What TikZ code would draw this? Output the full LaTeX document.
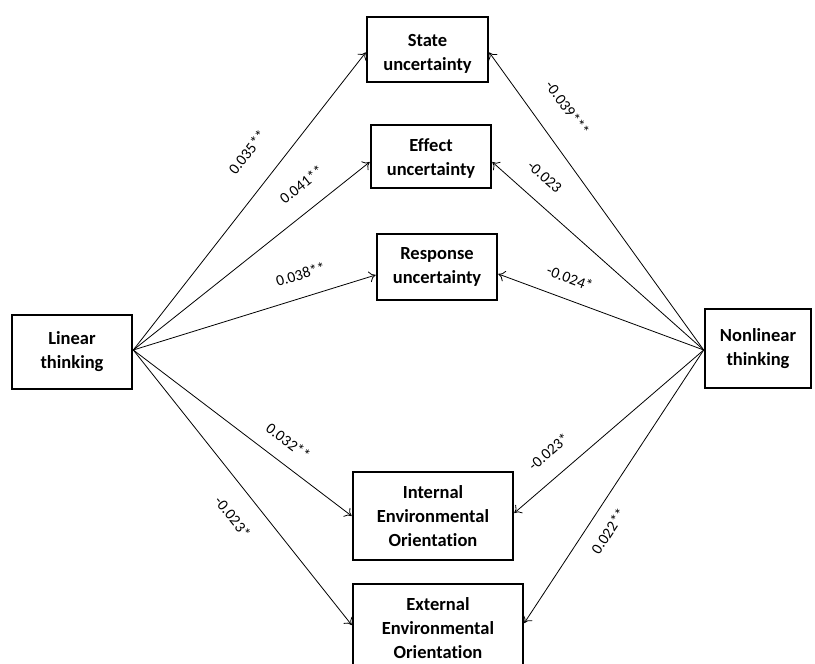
\documentclass[tikz,border=0pt]{standalone}
\usepackage{fontspec}
\setmainfont{Carlito}[Ligatures=NoCommon]
\usetikzlibrary{arrows.meta,calc}
\begin{document}
\begin{tikzpicture}[x=1pt,y=-1pt,
  box/.style={draw, line width=2.6pt, align=center, inner sep=0pt,
    font=\bfseries\fontsize{18.5}{24}\selectfont},
  conn/.style={line width=0.8pt, -{To[length=6.5pt,width=11pt]}},
  lab/.style={sloped, inner sep=0pt, font=\fontsize{15.5}{18}\selectfont}]
\useasboundingbox (0,0) rectangle (815,664);
\clip (0,0) rectangle (815,664);
\fill[white] (0,0) rectangle (815,664);
% boxes
\node[box, minimum width=120pt, minimum height=74pt] (lin) at (72,352) {Linear\\thinking};
\node[box, minimum width=106pt, minimum height=79pt] (nonlin) at (758,348.5) {Nonlinear\\thinking};
\node[box, minimum width=121pt, minimum height=65pt] (state) at (427.5,49.5) {\rule{0pt}{21pt}State\\uncertainty};
\node[box, minimum width=120pt, minimum height=63pt] (effect) at (431,156.5) {\rule{0pt}{17pt}Effect\\uncertainty};
\node[box, minimum width=120pt, minimum height=66pt] (response) at (437,267) {Response\\uncertainty};
\node[box, minimum width=160pt, minimum height=88pt] (internal) at (433,516) {Internal\\Environmental\\Orientation};
\node[box, minimum width=170pt, minimum height=88pt] (external) at (438,628) {External\\Environmental\\Orientation};
% sources
\coordinate (ls) at ($(lin.east)+(0,-2)$);
\coordinate (ns) at ($(nonlin.west)+(0,1.5)$);
% linear thinking arrows
\draw[conn] (ls) -- ($(state.west)+(0,3)$) node[lab, pos=.598, above=26pt] {0.035**};
\draw[conn] (ls) -- ($(effect.west)+(0,5.5)$) node[lab, pos=.777, above=19pt] {0.041**};
\draw[conn] (ls) -- ($(response.west)+(0,8)$) node[lab, pos=.718, above=17pt] {0.038**};
\draw[conn] (ls) -- ($(internal.west)+(0,0)$) node[lab, pos=.652, above=15pt] {0.032**};
\draw[conn] (ls) -- ($(external.west)+(0,-3)$) node[lab, pos=.549, below=20pt] {-0.023*};
% nonlinear thinking arrows
\draw[conn] (ns) -- ($(state.east)+(0,3)$) node[lab, pos=.752, above=25pt] {-0.039***};
\draw[conn] (ns) -- ($(effect.east)+(0,5.5)$) node[lab, pos=.826, above=18pt] {-0.023};
\draw[conn] (ns) -- ($(response.east)+(0,7)$) node[lab, pos=.687, above=15pt] {-0.024*};
\draw[conn] (ns) -- ($(internal.east)+(0,-3)$) node[lab, pos=.737, above=18pt] {-0.023*};
\draw[conn] (ns) -- ($(external.east)+(0,-5)$) node[lab, pos=.624, below=14pt] {0.022**};
\end{tikzpicture}
\end{document}
